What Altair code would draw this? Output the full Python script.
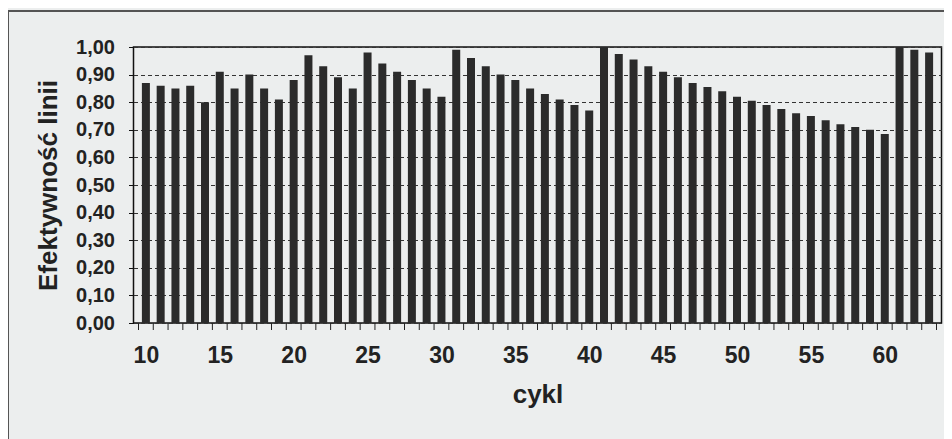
import altair as alt
import pandas as pd

cycles = list(range(10, 64))
efficiency = [
    0.87, 0.86, 0.85, 0.86, 0.80, 0.91, 0.85, 0.90, 0.85, 0.81,
    0.88, 0.97, 0.93, 0.89, 0.85, 0.98, 0.94, 0.91, 0.88, 0.85,
    0.82, 0.99, 0.96, 0.93, 0.90, 0.88, 0.85, 0.83, 0.81, 0.79,
    0.77, 1.00, 0.975, 0.955, 0.93, 0.91, 0.89, 0.87, 0.855, 0.84,
    0.82, 0.805, 0.79, 0.775, 0.76, 0.75, 0.735, 0.72, 0.71, 0.70,
    0.685, 1.00, 0.99, 0.98,
]
x_label_values = [10, 15, 20, 25, 30, 35, 40, 45, 50, 55, 60]
y_tick_values = [round(i / 10, 1) for i in range(11)]

df = pd.DataFrame({"cykl": cycles, "eff": efficiency})
bounds = pd.DataFrame({"b": [c - 0.5 for c in cycles] + [cycles[-1] + 0.5]})

FONT = "Liberation Sans"
W, H = 808, 276
xscale = alt.Scale(domain=[cycles[0] - 0.5, cycles[-1] + 0.5], nice=False, zero=False)

bars = alt.Chart(df).mark_bar(size=8, color="#2b2b2b").encode(
    x=alt.X("cykl:Q", scale=xscale,
            axis=alt.Axis(values=x_label_values, tickSize=0, domain=False, grid=False,
                          labelFont=FONT, labelFontSize=23, labelFontWeight="bold",
                          labelColor="#222", labelPadding=21,
                          title="cykl", titleFont=FONT, titleFontSize=26,
                          titleFontWeight="bold", titleColor="#222", titlePadding=14)),
    y=alt.Y("eff:Q", scale=alt.Scale(domain=[0, 1], nice=False),
            axis=alt.Axis(values=y_tick_values,
                          labelExpr="replace(format(datum.value, '.2f'), '.', ',')",
                          tickSize=5, tickColor="#111", domain=False,
                          grid=True, gridDash=[4, 3], gridColor="#333", gridWidth=1,
                          labelFont=FONT, labelFontSize=20, labelFontWeight="bold",
                          labelColor="#222", labelPadding=14,
                          title="Efektywność linii", titleFont=FONT, titleFontSize=26,
                          titleFontWeight="bold", titleColor="#222", titlePadding=14)),
)

ticks = alt.Chart(bounds).mark_rule(color="#222", strokeWidth=1).encode(
    x=alt.X("b:Q", scale=xscale),
    y=alt.value(H),
    y2=alt.value(H + 7),
)

frame_top = alt.Chart(df).mark_rule(color="#555", strokeWidth=1).encode(
    x=alt.value(-125), x2=alt.value(W + 5), y=alt.value(-36)
)
frame_left = alt.Chart(df).mark_rule(color="#555", strokeWidth=1).encode(
    x=alt.value(-125), y=alt.value(-36), y2=alt.value(H + 120)
)

chart = alt.layer(bars, ticks, frame_top, frame_left).properties(
    width=W, height=H,
    autosize=alt.AutoSizeParams(type="none"),
    padding={"left": 125.5, "top": 39, "right": 2, "bottom": 116},
    background="#eceeee",
).configure_view(stroke="#111", strokeWidth=1.5, fill="#eceeee")

chart.save("out.html", embed_options={"renderer": "svg", "actions": False})
